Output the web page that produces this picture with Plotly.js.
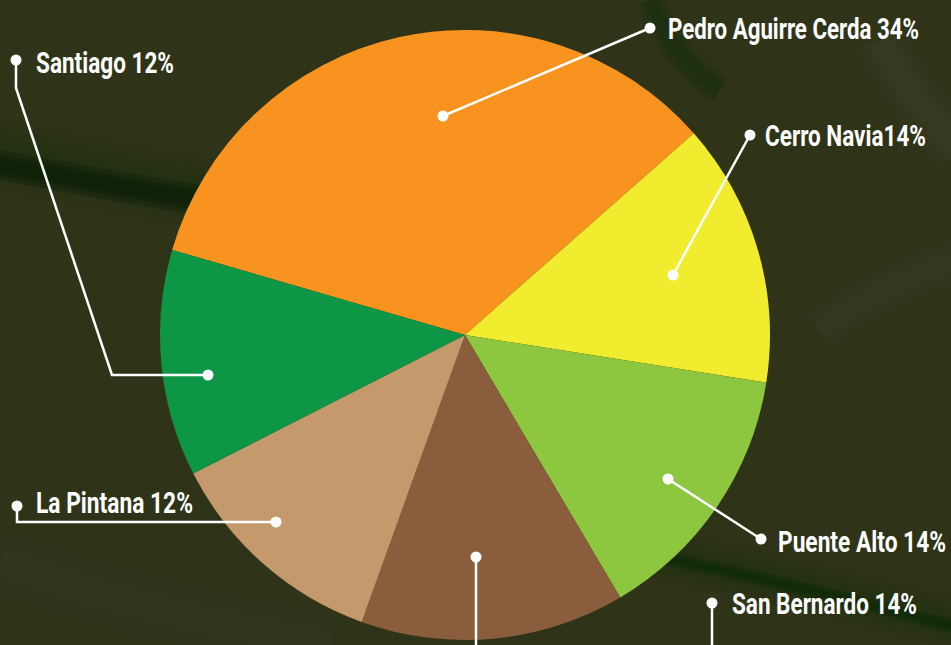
<!DOCTYPE html>
<html>
<head>
<meta charset="utf-8">
<script src="https://cdn.plot.ly/plotly-3.0.1.min.js"></script>
<style>html,body{margin:0;padding:0;background:#2f3318;}#chart{width:951px;height:645px;}</style>
</head>
<body>
<div id="chart"></div>
<script>
// ---- data ----
const comunas = ["Pedro Aguirre Cerda", "Cerro Navia", "Puente Alto", "San Bernardo", "La Pintana", "Santiago"];
const porcentajes = [34, 14, 14, 14, 12, 12];
const etiquetas = ["Pedro Aguirre Cerda 34%", "Cerro Navia14%", "Puente Alto 14%", "San Bernardo 14%", "La Pintana 12%", "Santiago 12%"];
const colores = ["#F7931E", "#F2EC2E", "#8DC63F", "#8A5E3C", "#C49A6C", "#0E9647"];

// ---- layout helpers (pixel -> paper) ----
const W = 951, H = 645;
const px = x => x / W;
const py = y => 1 - y / H;

// label positions (left edge x, centre y) and rendered widths in pixels, same order as comunas
const labelPos = [[668, 28], [765, 135], [778, 541], [732, 603], [36, 502], [36, 62]];
const labelWidth = [251, 161, 168, 185, 157, 138];
// leader polylines in pixels
const leaders = [
  [[443, 116], [650, 28]],
  [[673, 275], [750, 135]],
  [[668, 479], [761, 539]],
  [[712, 603], [712, 660]],
  [[276, 522], [17, 522], [17, 506]],
  [[208, 375], [112, 375], [16, 88], [16, 60]],
  [[476, 557], [476, 660]]
];
const dots = [[443,116],[650,28],[673,275],[750,135],[668,479],[761,539],[712,603],[476,557],[276,522],[17,506],[208,375],[16,60]];

const shapes = [];
const toPaperPath = d => d.replace(/(-?\d+(?:\.\d+)?) (-?\d+(?:\.\d+)?)/g,
  (m, a, b) => px(+a).toFixed(5) + "," + py(+b).toFixed(5));
// soft background texture (stacked translucent strokes fake a blur)
const bgStreaks = [
  {d: "M -20 150 C 60 165, 140 185, 220 195", c: "10,45,8", w: 70, a: 0.10},
  {d: "M -20 162 C 60 175, 140 192, 220 202", c: "0,22,0", w: 30, a: 0.25},
  {d: "M 600 545 C 700 560, 820 590, 960 625", c: "10,50,8", w: 50, a: 0.10},
  {d: "M 600 548 C 700 562, 820 592, 960 628", c: "5,40,5", w: 14, a: 0.25},
  {d: "M 650 0 C 665 40, 690 70, 720 90", c: "10,45,8", w: 30, a: 0.15},
  {d: "M 820 330 C 860 300, 900 280, 960 260", c: "80,80,70", w: 40, a: 0.08},
  {d: "M 0 560 C 100 600, 200 620, 330 645", c: "70,70,60", w: 60, a: 0.06},
  {d: "M 880 40 C 900 80, 930 120, 960 150", c: "80,80,70", w: 50, a: 0.07}
];
bgStreaks.forEach(s => {
  [1, 0.7, 0.45].forEach(k => {
    shapes.push({type: "path", xref: "paper", yref: "paper", path: toPaperPath(s.d), layer: "below",
      line: {color: "rgba(" + s.c + "," + s.a + ")", width: s.w * k}});
  });
});
leaders.forEach(pts => {
  const path = pts.map((p, i) => (i ? "L" : "M") + px(p[0]).toFixed(5) + "," + py(p[1]).toFixed(5)).join(" ");
  shapes.push({type: "path", xref: "paper", yref: "paper", path: path, layer: "above",
    line: {color: "#ffffff", width: 2.5}});
});
dots.forEach(p => {
  shapes.push({type: "circle", xref: "paper", yref: "paper", xsizemode: "pixel", ysizemode: "pixel",
    xanchor: px(p[0]), yanchor: py(p[1]), x0: -5.5, x1: 5.5, y0: -5.5, y1: 5.5,
    fillcolor: "#ffffff", line: {width: 0}, layer: "above"});
});

const annotations = etiquetas.map((t, i) => ({
  text: t, xref: "paper", yref: "paper", x: px(labelPos[i][0] - 1), y: py(labelPos[i][1] + 1),
  xanchor: "left", yanchor: "middle", align: "left", showarrow: false, borderpad: 0,
  font: {family: "Roboto, sans-serif", size: 23, color: "#ffffff", weight: 700}
}));

const trace = {
  type: "pie",
  labels: comunas,
  values: porcentajes,
  sort: false,
  direction: "clockwise",
  rotation: -73.8,
  textinfo: "none",
  hoverinfo: "label+percent",
  marker: {colors: colores, line: {width: 0}},
  domain: {x: [px(160), px(770)], y: [py(640), py(30)]},
  showlegend: false
};

Plotly.newPlot("chart", [trace], {
  width: W, height: H,
  margin: {l: 0, r: 0, t: 0, b: 0},
  paper_bgcolor: "#2f3318",
  plot_bgcolor: "#2f3318",
  showlegend: false,
  shapes: shapes,
  annotations: annotations
}, {displayModeBar: false}).then(gd => {
  // give the labels the tall, narrow look of the original condensed face
  gd.querySelectorAll("g.annotation").forEach(g => {
    const i = +g.getAttribute("data-index");
    const txt = g.querySelector("text.annotation-text");
    if (!txt) return;
    const lines = txt.querySelectorAll("tspan.line");
    const target = lines.length ? lines[0] : txt;
    target.setAttribute("textLength", labelWidth[i]);
    target.setAttribute("lengthAdjust", "spacingAndGlyphs");
    txt.style.transformBox = "fill-box";
    txt.style.transformOrigin = "center";
    txt.style.transform = "scaleY(1.3)";
  });
});
</script>
</body>
</html>
